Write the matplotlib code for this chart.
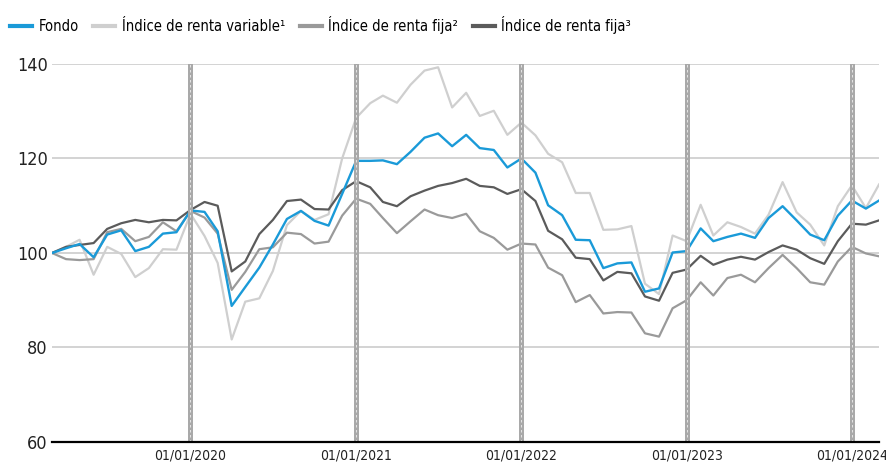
import numpy as np
import pandas as pd
import matplotlib
matplotlib.use("Agg")
import matplotlib.pyplot as plt
import matplotlib.dates as mdates

# monthly data, Mar 2019 - Mar 2024 (base 100)
dates = pd.date_range("2019-03-01", periods=61, freq="MS")

fondo = [100.0, 101.0, 101.9, 99.1, 103.9, 104.8, 100.4, 101.3, 104.1, 104.4,
         109.0, 108.7, 104.6, 88.8, 92.8, 96.9, 101.8, 107.2, 108.9, 106.8,
         105.8, 112.5, 119.5, 119.5, 119.6, 118.8, 121.4, 124.4, 125.3, 122.6,
         125.0, 122.2, 121.8, 118.1, 120.0, 117.0, 110.1, 108.0, 102.8, 102.7,
         96.8, 97.8, 98.0, 91.8, 92.5, 100.1, 100.4, 105.2, 102.5, 103.4,
         104.1, 103.2, 107.4, 109.9, 106.9, 103.9, 102.7, 107.9, 111.1, 109.4,
         111.1]

renta_variable = [100.0, 101.3, 102.8, 95.4, 101.3, 99.8, 94.9, 96.8, 100.8, 100.7,
                  108.3, 103.6, 97.9, 81.7, 89.7, 90.4, 96.2, 105.9, 108.9, 107.0,
                  108.2, 120.0, 128.6, 131.7, 133.3, 131.8, 135.6, 138.6, 139.3, 130.8,
                  133.9, 129.0, 130.1, 125.0, 127.6, 124.9, 121.0, 119.2, 112.7, 112.7,
                  104.9, 105.0, 105.7, 93.5, 91.3, 103.7, 102.5, 110.2, 103.7, 106.5,
                  105.5, 104.1, 108.1, 115.0, 108.6, 106.0, 101.6, 109.9, 114.3, 109.5,
                  114.5]

renta_fija_2 = [100.0, 98.7, 98.5, 98.7, 104.4, 105.1, 102.5, 103.4, 106.5, 104.6,
                108.9, 107.5, 104.1, 92.2, 96.0, 100.8, 101.2, 104.3, 104.0, 102.0,
                102.4, 107.9, 111.5, 110.4, 107.4, 104.2, 106.7, 109.2, 108.0, 107.4,
                108.3, 104.6, 103.2, 100.7, 102.0, 101.8, 96.9, 95.3, 89.6, 91.1,
                87.2, 87.5, 87.4, 83.0, 82.3, 88.3, 90.0, 93.8, 91.0, 94.7,
                95.4, 93.8, 96.8, 99.6, 96.8, 93.8, 93.3, 98.2, 101.3, 99.9,
                99.3]

renta_fija_3 = [100.0, 101.3, 101.7, 102.1, 105.1, 106.3, 107.0, 106.5, 107.0, 106.9,
                109.1, 110.8, 110.0, 96.1, 98.2, 104.0, 107.0, 111.0, 111.3, 109.3,
                109.2, 113.3, 115.2, 113.9, 110.8, 109.9, 112.0, 113.2, 114.2, 114.8,
                115.7, 114.2, 113.9, 112.5, 113.5, 111.0, 104.7, 102.9, 99.0, 98.7,
                94.2, 96.0, 95.7, 90.8, 89.9, 95.8, 96.5, 99.4, 97.5, 98.6,
                99.2, 98.6, 100.2, 101.6, 100.7, 98.9, 97.7, 102.5, 106.2, 106.0,
                106.9]

labels = ["Fondo", "Índice de renta variable¹", "Índice de renta fija²", "Índice de renta fija³"]
year_marks = pd.to_datetime(["2020-01-01", "2021-01-01", "2022-01-01", "2023-01-01", "2024-01-01"])
y_ticks = [60, 80, 100, 120, 140]

plt.rcParams["font.family"] = ["DejaVu Sans"]
plt.rcParams["font.stretch"] = "condensed"

fig = plt.figure(figsize=(8.87, 4.66), dpi=100)
ax = fig.add_axes([0.0586, 0.0515, 0.9324, 0.8112])

# series
ax.plot(dates, renta_variable, color="#cfcfcf", lw=1.6, label=labels[1], zorder=3)
ax.plot(dates, renta_fija_2, color="#9a9a9a", lw=1.6, label=labels[2], zorder=4)
ax.plot(dates, renta_fija_3, color="#5b5b5b", lw=1.6, label=labels[3], zorder=5)
ax.plot(dates, fondo, color="#1a9ad8", lw=1.7, label=labels[0], zorder=6)

# yearly markers
for d in year_marks:
    ax.axvline(d, color="#a9a9a9", lw=3.6, zorder=7)
    ax.axvline(d, color="white", lw=0.6, ls=(0, (3, 3)), alpha=0.8, zorder=8)

ax.set_ylim(60, 140)
ax.set_xlim(dates[0], dates[-1])
ax.set_yticks(y_ticks)
ax.set_xticks(year_marks)
ax.xaxis.set_major_formatter(mdates.DateFormatter("%d/%m/%Y"))
ax.yaxis.grid(True, color="#cccccc", lw=1.2)
ax.set_axisbelow(True)
for s in ["left", "right", "top"]:
    ax.spines[s].set_visible(False)
ax.spines["bottom"].set_color("black")
ax.spines["bottom"].set_linewidth(1.6)
ax.spines["bottom"].set_zorder(9)
ax.tick_params(axis="y", length=0, pad=3, labelsize=13, colors="#222222")
ax.tick_params(axis="x", length=0, pad=5, labelsize=10, colors="#222222")

# legend in fixed order
h, l = ax.get_legend_handles_labels()
order = [l.index(x) for x in labels]
leg = fig.legend([h[i] for i in order], [l[i] for i in order], loc="center left",
                 bbox_to_anchor=(0.0, 0.946), ncol=4, frameon=False,
                 fontsize=10.5, handlelength=1.5, handletextpad=0.45, columnspacing=1.0,
                 borderaxespad=0.3)
for line in leg.get_lines():
    line.set_linewidth(3.0)

fig.savefig("out.png", dpi=100)
